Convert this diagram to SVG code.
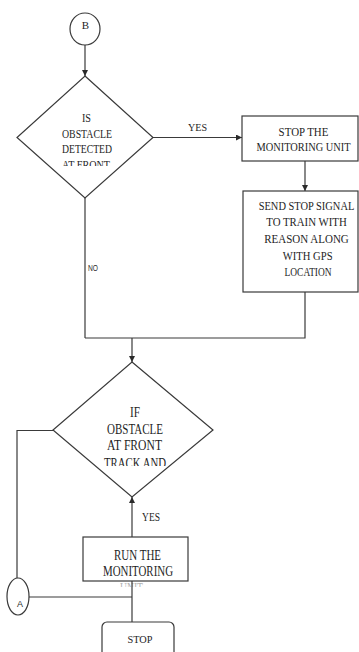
<svg xmlns="http://www.w3.org/2000/svg" width="359" height="652" viewBox="0 0 359 652">
  <style>
    .shape { fill: #ffffff; stroke: #3a3a3a; stroke-width: 1.2; }
    .wire { fill: none; stroke: #3a3a3a; stroke-width: 1.2; }
    .lbl { font-family: "Liberation Serif", "Times New Roman", serif; fill: #1e1e1e; text-anchor: middle; }
    .tag { font-family: "Liberation Sans", Arial, sans-serif; fill: #2a2a2a; text-anchor: middle; }
  </style>
  <defs>
    <marker id="arrow" markerUnits="userSpaceOnUse" markerWidth="8" markerHeight="8" refX="6" refY="3" orient="auto">
      <path d="M0,0 L6,3 L0,6 Z" fill="#2a2a2a"/>
    </marker>
    <clipPath id="clipD1"><rect x="0" y="100" width="200" height="66"/></clipPath>
    <clipPath id="clipD2"><rect x="40" y="395" width="200" height="71"/></clipPath>
    <clipPath id="clipRun"><rect x="80" y="540" width="120" height="47"/></clipPath>
  </defs>

  <rect width="359" height="652" fill="#ffffff"/>

  <!-- connectors -->
  <g id="connectors">
    <line class="wire" x1="85" y1="45" x2="85" y2="76" marker-end="url(#arrow)"/>
    <line class="wire" x1="153" y1="137.5" x2="242" y2="137.5" marker-end="url(#arrow)"/>
    <line class="wire" x1="305" y1="161" x2="305" y2="191" marker-end="url(#arrow)"/>
    <polyline class="wire" points="305,292 305,338 85,338"/>
    <line class="wire" x1="85" y1="198" x2="85" y2="338"/>
    <line class="wire" x1="132" y1="338" x2="132" y2="362" marker-end="url(#arrow)"/>
    <polyline class="wire" points="53,430.5 17,430.5 17,578"/>
    <line class="wire" x1="29" y1="597" x2="132" y2="597"/>
    <line class="wire" x1="132" y1="581" x2="132" y2="622"/>
    <line class="wire" x1="132" y1="537" x2="132" y2="497" marker-end="url(#arrow)"/>
    <text class="lbl" x="197.5" y="131" font-size="11" textLength="19" lengthAdjust="spacingAndGlyphs">YES</text>
    <text class="tag" x="93" y="270.5" font-size="8.5" textLength="10" lengthAdjust="spacingAndGlyphs">NO</text>
    <text class="lbl" x="151" y="521" font-size="12" textLength="18" lengthAdjust="spacingAndGlyphs">YES</text>
  </g>

  <!-- connector B -->
  <g id="node-b">
    <ellipse class="shape" cx="85" cy="29" rx="15" ry="16"/>
    <text class="lbl" x="85.5" y="29" font-size="11">B</text>
  </g>

  <!-- first decision -->
  <g id="decision-obstacle">
    <polygon class="shape" points="85,76 153,137.5 85,198 17,137.5"/>
    <g clip-path="url(#clipD1)">
      <text class="lbl" x="86.5" y="122" font-size="12.5" textLength="9" lengthAdjust="spacingAndGlyphs">IS</text>
      <text class="lbl" x="87" y="137.5" font-size="12.5" textLength="50" lengthAdjust="spacingAndGlyphs">OBSTACLE</text>
      <text class="lbl" x="87" y="153" font-size="12.5" textLength="50" lengthAdjust="spacingAndGlyphs">DETECTED</text>
      <text class="lbl" x="86" y="169" font-size="12.5" textLength="48" lengthAdjust="spacingAndGlyphs">AT FRONT</text>
    </g>
  </g>

  <!-- stop monitoring: narrow serif lettering -->
  <g id="stop-monitoring">
    <rect class="shape" x="242" y="116" width="116" height="45"/>
    <g transform="translate(303.5,0) scale(0.79,1)">
      <text class="lbl" x="0" y="136" font-size="13.5" textLength="63" lengthAdjust="spacingAndGlyphs">STOP THE</text>
      <text class="lbl" x="0" y="151.5" font-size="13.5" textLength="119" lengthAdjust="spacingAndGlyphs">MONITORING UNIT</text>
    </g>
  </g>

  <!-- send stop signal -->
  <g id="send-signal">
    <rect class="shape" x="243" y="191" width="115" height="101"/>
    <g transform="translate(306.5,0) scale(0.79,1)">
      <text class="lbl" x="0" y="210" font-size="13.5" textLength="121" lengthAdjust="spacingAndGlyphs">SEND STOP SIGNAL</text>
      <text class="lbl" x="0" y="226.5" font-size="13.5" textLength="102" lengthAdjust="spacingAndGlyphs">TO TRAIN WITH</text>
      <text class="lbl" x="0" y="243.5" font-size="13.5" textLength="107" lengthAdjust="spacingAndGlyphs">REASON ALONG</text>
      <text class="lbl" x="1.5" y="260" font-size="13.5" textLength="63" lengthAdjust="spacingAndGlyphs">WITH GPS</text>
      <text class="lbl" x="2" y="276.5" font-size="13.5" textLength="59.5" lengthAdjust="spacingAndGlyphs">LOCATION</text>
    </g>
  </g>

  <!-- second decision -->
  <g id="decision-track">
    <polygon class="shape" points="132,362 213,430 132,497 53,430"/>
    <g clip-path="url(#clipD2)">
      <text class="lbl" x="135" y="417" font-size="14" textLength="10" lengthAdjust="spacingAndGlyphs">IF</text>
      <text class="lbl" x="135" y="434" font-size="14" textLength="56" lengthAdjust="spacingAndGlyphs">OBSTACLE</text>
      <text class="lbl" x="134.5" y="450" font-size="14" textLength="55" lengthAdjust="spacingAndGlyphs">AT FRONT</text>
      <text class="lbl" x="135" y="467.5" font-size="14" textLength="62" lengthAdjust="spacingAndGlyphs">TRACK AND</text>
    </g>
  </g>

  <!-- run monitoring -->
  <g id="run-monitoring">
    <rect class="shape" x="83" y="537" width="105" height="44"/>
    <text class="lbl" x="137.5" y="560" font-size="14" textLength="47" lengthAdjust="spacingAndGlyphs">RUN THE</text>
    <text class="lbl" x="138" y="576" font-size="14" textLength="70" lengthAdjust="spacingAndGlyphs">MONITORING</text>
    <g clip-path="url(#clipRun)" opacity="0.35">
      <text class="lbl" x="131.5" y="593" font-size="14" textLength="23" lengthAdjust="spacingAndGlyphs">UNIT</text>
    </g>
  </g>

  <!-- connector A -->
  <g id="node-a">
    <ellipse class="shape" cx="18" cy="596.5" rx="11" ry="18.5"/>
    <text class="tag" x="20" y="607" font-size="9">A</text>
  </g>

  <!-- terminator -->
  <g id="stop">
    <rect class="shape" x="102" y="622" width="72" height="40" rx="5" ry="5"/>
    <text class="lbl" x="140" y="643" font-size="10.5" textLength="25" lengthAdjust="spacingAndGlyphs">STOP</text>
  </g>
</svg>
